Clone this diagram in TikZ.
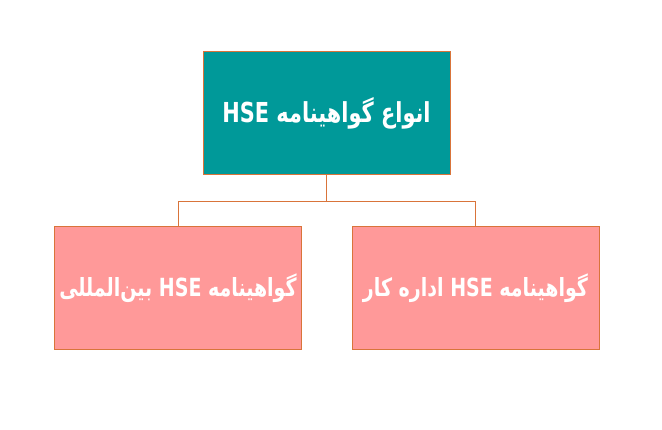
\documentclass[tikz,border=0pt]{standalone}
\usepackage{fontspec}
\TeXXeTstate=1
\newfontfamily\arabicfont[Script=Arabic,FakeStretch=0.76]{DejaVu Sans}
\definecolor{tealbox}{HTML}{009999}
\definecolor{pinkbox}{HTML}{FF9999}
\definecolor{edgeor}{HTML}{D9743A}
\begin{document}
\begin{tikzpicture}[x=1pt,y=1pt,
  box/.style={draw=edgeor,line width=1pt,minimum width=247pt,minimum height=123pt,inner sep=0pt,text=white,font=\arabicfont\bfseries\fontsize{25}{30}\selectfont},
  conn/.style={draw=edgeor,line width=0.9pt}]
\useasboundingbox (0,0) rectangle (662,-430);
\fill[white] (0,0) rectangle (662,-430);
\node[box,fill=tealbox,font=\arabicfont\bfseries\fontsize{27.5}{33}\selectfont] (top) at (326.5,-113.5) {\beginR انواع گواهینامه \beginL HSE\endL\endR};
\node[box,fill=pinkbox] (left) at (178,-288.5) {\beginR گواهینامه \beginL HSE\endL{} بین‌المللی\endR};
\node[box,fill=pinkbox] (right) at (475.5,-288.5) {\beginR گواهینامه \beginL HSE\endL{} اداره کار\endR};
\coordinate (j) at (326.5,-201);
\draw[conn] (top.south) -- (j);
\draw[conn] (j) -| (left.north);
\draw[conn] (j) -| (right.north);
\end{tikzpicture}
\end{document}
